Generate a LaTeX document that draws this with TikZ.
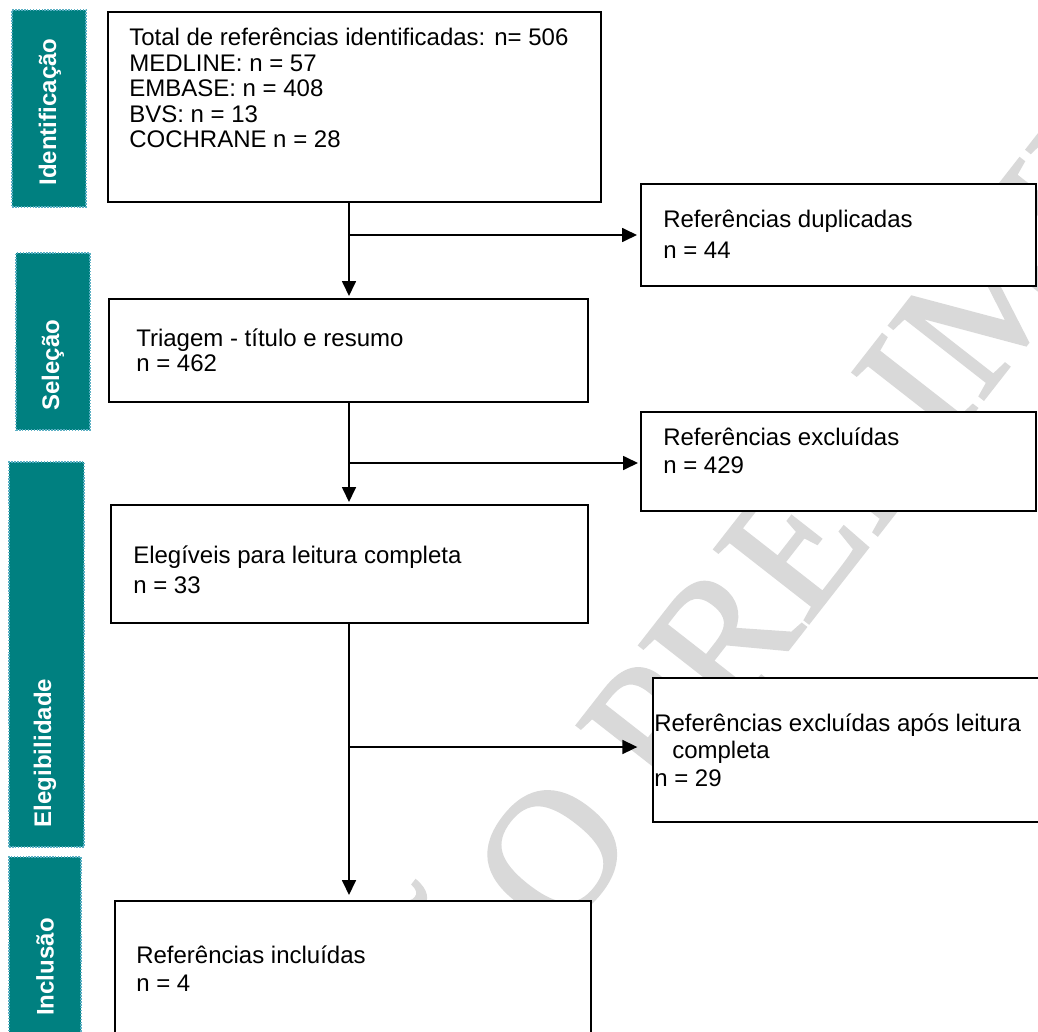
\documentclass[tikz,border=0pt]{standalone}
\usepackage{fontspec}
\setmainfont{Liberation Sans}
\newfontfamily\wmfont[FakeBold=1.5]{Liberation Serif}
\usetikzlibrary{arrows.meta}
\newdimen\PX \PX=0.75pt
\definecolor{tealbar}{RGB}{0,128,128}
\definecolor{dotc}{RGB}{90,175,195}
\tikzset{
  bar/.style={fill=tealbar, draw=dotc, densely dotted, line width=1.2pt, inner sep=0pt},
  lab/.style={text=white, font=\bfseries\fontsize{18}{20}\selectfont, inner sep=0pt, rotate=90},
  box/.style={draw=black, fill=white, line width=1.5pt, inner sep=0pt},
  txt/.style={font=\fontsize{18}{21}\selectfont, inner sep=0pt, anchor=base west},
  conn/.style={line width=1.3pt, -{Triangle[length=11.25pt, width=10.5pt]}},
  wm/.style={text=black!15, font=\wmfont\fontsize{137}{137}\selectfont, rotate=52, anchor=base west, inner sep=0pt}
}
\begin{document}
\begin{tikzpicture}[x=0.75pt, y=-0.75pt]
\useasboundingbox (0,0) rectangle (1038,1031);
\fill[white] (0,0) rectangle (1038,1031);
% watermark
\begin{scope}
\clip (0,0) rectangle (1038,1031);
\node[wm] (wmark) at (190,1415) {VERSÃO PRELIMINAR};
\end{scope}
% side bars
\node[bar, minimum width=74\PX, minimum height=197\PX] (bar1) at (49,108.5) {};
\node[bar, minimum width=74\PX, minimum height=177\PX] (bar2) at (53,341.5) {};
\node[bar, minimum width=75\PX, minimum height=385\PX] (bar3) at (46.5,654.5) {};
\node[bar, minimum width=72\PX, minimum height=188\PX] (bar4) at (45,951) {};
\node[lab] (l1) at (50,112) {Identificação};
\node[lab] (l2) at (53,365) {Seleção};
\node[lab] (l3) at (45,753) {Elegibilidade};
\node[lab] (l4) at (45,967) {Inclusão};
% boxes
\node[box, minimum width=493\PX, minimum height=190\PX] (b1) at (354.5,107) {};
\node[box, minimum width=395\PX, minimum height=102\PX] (dup) at (838.5,235) {};
\node[box, minimum width=479\PX, minimum height=103\PX] (b2) at (348.5,350.5) {};
\node[box, minimum width=395\PX, minimum height=99\PX] (exc) at (838.5,461.5) {};
\node[box, minimum width=477\PX, minimum height=118\PX] (b3) at (349.5,564) {};
\node[box, minimum width=392\PX, minimum height=144\PX] (exc2) at (849,750) {};
\node[box, minimum width=476\PX, minimum height=144\PX] (b4) at (353,973) {};
% texts
\node[txt] (t1a) at (129,46) {Total de referências identificadas: n= 506};
\node[txt] (t1b) at (129,72) {MEDLINE: n = 57};
\node[txt] (t1c) at (129,97) {EMBASE: n = 408};
\node[txt] (t1d) at (129,122) {BVS: n = 13};
\node[txt] (t1e) at (129,147) {COCHRANE n = 28};
\node[txt] (tda) at (663,227) {Referências duplicadas};
\node[txt] (tdb) at (663,258) {n = 44};
\node[txt] (t2a) at (136,346) {Triagem - título e resumo};
\node[txt] (t2b) at (136,371) {n = 462};
\node[txt] (tea) at (663,445) {Referências excluídas};
\node[txt] (teb) at (663,473) {n = 429};
\node[txt] (t3a) at (133,563) {Elegíveis para leitura completa};
\node[txt] (t3b) at (133,593) {n = 33};
\node[txt] (tfa) at (654,731) {Referências excluídas após leitura};
\node[txt] (tfb) at (672,758) {completa};
\node[txt] (tfc) at (654,786) {n = 29};
\node[txt] (t4a) at (136,963) {Referências incluídas};
\node[txt] (t4b) at (136,991) {n = 4};
% connectors
\coordinate (sp) at (349,0);
\coordinate (j1) at (349,235);
\coordinate (j2) at (349,463);
\coordinate (j3) at (349,747);
\draw[conn, shorten >=1.5pt] (b1.south -| sp) -- (b2.north -| sp);
\draw[conn, shorten >=2.25pt] (j1) -- (j1 -| dup.west);
\draw[conn, shorten >=1.5pt] (b2.south -| sp) -- (b3.north -| sp);
\draw[conn, shorten >=1.5pt] (j2) -- (j2 -| exc.west);
\draw[conn, shorten >=3.75pt] (b3.south -| sp) -- (b4.north -| sp);
\draw[conn, shorten >=11pt] (j3) -- (j3 -| exc2.west);
\end{tikzpicture}
\end{document}
